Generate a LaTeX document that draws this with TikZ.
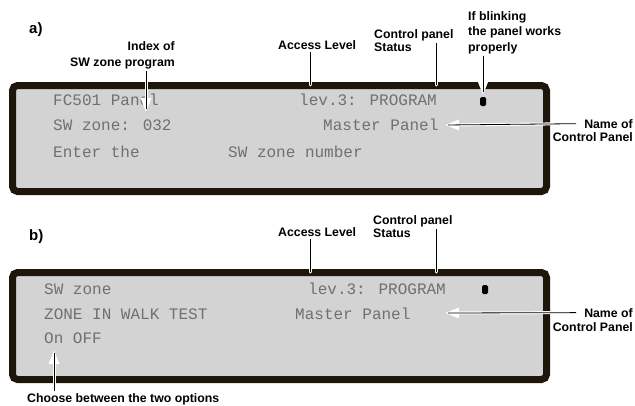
\documentclass[tikz,border=0pt]{standalone}
\usepackage{fontspec}
\setmainfont{Liberation Sans}
\newfontfamily\lcdfamily{Liberation Mono}
\usepackage{tikz}
\usetikzlibrary{calc,arrows.meta}
\definecolor{lcdgray}{HTML}{D3D3D3}
\definecolor{lcdtext}{HTML}{707070}
\definecolor{framebrown}{HTML}{1F160B}

\tikzset{
  panel/.style={draw=framebrown, fill=lcdgray, line width=7pt, rounded corners=5pt},
  lbl/.style={font=\fontsize{12.3}{15.5}\selectfont\bfseries, inner sep=0pt},
  tag/.style={font=\fontsize{15}{18}\selectfont\bfseries, inner sep=0pt, anchor=base west},
  lcd/.style={font=\fontsize{16}{18}\selectfont\lcdfamily, text=lcdtext, inner sep=0pt, anchor=base west},
  casing/.style={draw=white, line width=3pt, line cap=round},
  stem/.style={draw=black, line width=0.8pt},
  whitehead/.style={-{Triangle[width=10pt,length=14pt,fill=white]}}
}

\begin{document}
\begin{tikzpicture}[x=1pt,y=-1pt]
  \useasboundingbox (0,0) rectangle (635,405);

  % display a)
  \node[tag] (taga) at (29,33) {a)};
  \draw[panel] (12.5,85.5) rectangle (546.5,191.5);
  \node[lcd] (rowa1) at (53,105) {FC501 Panel};
  \node[lcd] (leva) at (299,105) {lev.3: PROGRAM};
  \node[lcd] (rowa2) at (53,130) {SW zone: 032};
  \node[lcd] (masta) at (323,130) {Master Panel};
  \node[lcd] (rowa3) at (53,157) {Enter the};
  \node[lcd] (numa) at (228,157) {SW zone number};
  \fill[black, rounded corners=1.5pt] (480,97) rectangle (486,106);

  \node[lbl, anchor=base east, align=right] (idxa) at (175,66) {Index of\\SW zone program};
  \node[lbl, anchor=base west] (acca) at (278,49) {Access Level};
  \node[lbl, anchor=base west] (cpa) at (374,38) {Control panel};
  \node[lbl, anchor=base west] (sta) at (374,51) {Status};
  \node[lbl, anchor=base west, align=left] (blinka) at (468,51) {If blinking\\the panel works\\properly};
  \node[lbl, anchor=base east] (nameofa) at (633,128) {Name of};
  \node[lbl, anchor=base east] (cpnamea) at (633,141) {Control Panel};

  \coordinate (idxtipa) at (146,112);
  \coordinate (acctipa) at (310,85);
  \coordinate (sttipa) at (436,85);
  \coordinate (blinktipa) at (483,95);
  \coordinate (nametipa) at (445,125);

  \draw[casing, whitehead, shorten <=2pt] (idxa.south -| idxtipa) -- (idxtipa);
  \draw[stem, shorten <=2pt, shorten >=3pt] (idxa.south -| idxtipa) -- (idxtipa);
  \draw[casing, shorten <=3pt] (acca.south -| acctipa) -- (acctipa);
  \draw[stem, shorten <=3pt] (acca.south -| acctipa) -- (acctipa);
  \draw[casing, shorten <=2pt] (cpa.south -| sttipa) -- (sttipa);
  \draw[stem, shorten <=2pt] (cpa.south -| sttipa) -- (sttipa);
  \draw[casing, whitehead, shorten <=2pt] (blinka.south -| blinktipa) -- (blinktipa);
  \draw[stem, shorten <=2pt, shorten >=3pt] (blinka.south -| blinktipa) -- (blinktipa);
  \draw[casing, whitehead, shorten <=8pt] (nameofa.west) -- (nametipa);
  \draw[stem, shorten <=8pt, shorten >=3pt] (nameofa.west) -- (nametipa);

  % display b)
  \node[tag] (tagb) at (29,240) {b)};
  \draw[panel] (12.5,272.5) rectangle (546.5,379.5);
  \node[lcd] (rowb1) at (44,294) {SW zone};
  \node[lcd] (levb) at (308,294) {lev.3: PROGRAM};
  \node[lcd] (rowb2) at (44,319) {ZONE IN WALK TEST};
  \node[lcd] (mastb) at (295,319) {Master Panel};
  \node[lcd] (rowb3) at (44,343) {On OFF};
  \fill[black, rounded corners=1.5pt] (482,285) rectangle (488,294);

  \node[lbl, anchor=base west] (accb) at (278,236) {Access Level};
  \node[lbl, anchor=base west] (cpb) at (373,224) {Control panel};
  \node[lbl, anchor=base west] (stb) at (373,237) {Status};
  \node[lbl, anchor=base east] (nameofb) at (633,317) {Name of};
  \node[lbl, anchor=base east] (cpnameb) at (633,331) {Control Panel};
  \node[lbl, anchor=base west] (choose) at (27,402) {Choose between the two options};

  \coordinate (acctipb) at (310,272);
  \coordinate (sttipb) at (436,272);
  \coordinate (nametipb) at (445,313);
  \coordinate (choosetip) at (54,350);

  \draw[casing, shorten <=3pt] (accb.south -| acctipb) -- (acctipb);
  \draw[stem, shorten <=3pt] (accb.south -| acctipb) -- (acctipb);
  \draw[casing, shorten <=2pt] (cpb.south -| sttipb) -- (sttipb);
  \draw[stem, shorten <=2pt] (cpb.south -| sttipb) -- (sttipb);
  \draw[casing, whitehead, shorten <=8pt] (nameofb.west) -- (nametipb);
  \draw[stem, shorten <=8pt, shorten >=3pt] (nameofb.west) -- (nametipb);
  \draw[casing, whitehead, shorten <=2pt] (choose.north -| choosetip) -- (choosetip);
  \draw[stem, shorten <=2pt, shorten >=3pt] (choose.north -| choosetip) -- (choosetip);
\end{tikzpicture}
\end{document}
